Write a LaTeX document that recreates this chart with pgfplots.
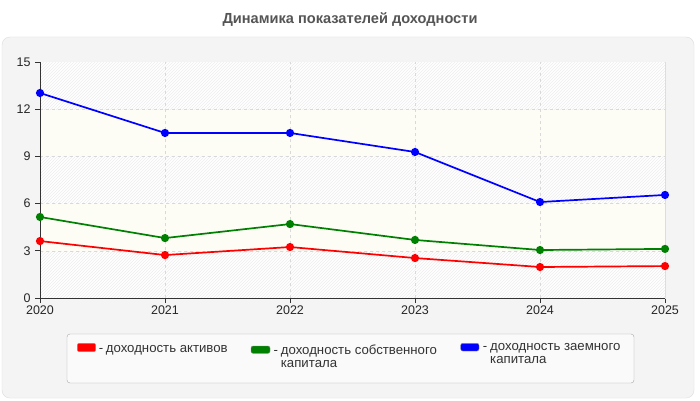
\documentclass[border=0pt]{standalone}
\usepackage{fontspec}
\setmainfont{Liberation Sans}
\usepackage{pgfplots}
\pgfplotsset{compat=1.18}
\usetikzlibrary{patterns}
\definecolor{panel}{HTML}{F4F4F4}
\definecolor{panelborder}{HTML}{DDDDDD}
\definecolor{ivory}{HTML}{FDFDF6}
\definecolor{titlegray}{HTML}{555555}
\definecolor{legfill}{HTML}{FAFAFA}
\definecolor{legdraw}{HTML}{AAAAAA}
\definecolor{cred}{HTML}{FF0000}
\definecolor{cgreen}{HTML}{008000}
\definecolor{cblue}{HTML}{0000FF}
\begin{document}
\begin{tikzpicture}[x=1pt,y=1pt]
\path[use as bounding box] (0,0) rectangle (700,400);
\fill[white] (0,0) rectangle (700,400);
\draw[panelborder, fill=panel, rounded corners=8pt] (2,2) rectangle (694,363);
\node[font=\fontsize{14.6}{16}\selectfont\bfseries, text=titlegray, anchor=base] at (350,376.7) {Динамика показателей доходности};
\begin{axis}[
  at={(40pt,102pt)}, anchor=origin,
  scale only axis, width=625pt, height=236pt,
  xmin=2020, xmax=2025, ymin=0, ymax=15,
  xtick={2020,2021,2022,2023,2024,2025},
  ytick={0,3,6,9,12,15},
  /pgf/number format/1000 sep={},
  /pgf/number format/assume math mode=true,
  ticklabel style={font=\fontsize{12.5}{14}\selectfont, text=black!85},
  xticklabel style={yshift=1pt},
  yticklabel style={xshift=-1pt},
  xtick pos=bottom, ytick pos=left, tick align=outside,
  major tick length=5pt, tick style={black!80, line width=0.8pt},
  axis line style={draw=panelborder},
  clip=false,
]
\fill[white] (axis cs:2020,0) rectangle (axis cs:2025,15);
\fill[pattern=north east lines, pattern color=black!7] (axis cs:2020,0) rectangle (axis cs:2025,3);
\fill[ivory] (axis cs:2020,3) rectangle (axis cs:2025,6);
\fill[pattern=north east lines, pattern color=black!7] (axis cs:2020,6) rectangle (axis cs:2025,9);
\fill[ivory] (axis cs:2020,9) rectangle (axis cs:2025,12);
\fill[pattern=north east lines, pattern color=black!7] (axis cs:2020,12) rectangle (axis cs:2025,15);
\draw[dashed, black!15, line width=0.6pt] (axis cs:2020,3) -- (axis cs:2025,3);
\draw[dashed, black!15, line width=0.6pt] (axis cs:2020,6) -- (axis cs:2025,6);
\draw[dashed, black!15, line width=0.6pt] (axis cs:2020,9) -- (axis cs:2025,9);
\draw[dashed, black!15, line width=0.6pt] (axis cs:2020,12) -- (axis cs:2025,12);
\draw[dashed, black!15, line width=0.6pt] (axis cs:2021,0) -- (axis cs:2021,15);
\draw[dashed, black!15, line width=0.6pt] (axis cs:2022,0) -- (axis cs:2022,15);
\draw[dashed, black!15, line width=0.6pt] (axis cs:2023,0) -- (axis cs:2023,15);
\draw[dashed, black!15, line width=0.6pt] (axis cs:2024,0) -- (axis cs:2024,15);
\addplot[cred, line width=1.7pt, mark=*, mark size=3.2pt] coordinates {
 (2020,3.62) (2021,2.73) (2022,3.24) (2023,2.54) (2024,1.97) (2025,2.03)};
\addplot[cgreen, line width=1.7pt, mark=*, mark size=3.2pt] coordinates {
 (2020,5.15) (2021,3.81) (2022,4.70) (2023,3.69) (2024,3.05) (2025,3.12)};
\addplot[cblue, line width=1.7pt, mark=*, mark size=3.2pt] coordinates {
 (2020,13.03) (2021,10.49) (2022,10.49) (2023,9.28) (2024,6.10) (2025,6.55)};
\draw[black!80, line width=1pt] (axis cs:2020,15) -- (axis cs:2020,0) -- (axis cs:2025,0);
\end{axis}
% legend
\draw[legdraw, fill=legfill, rounded corners=3pt] (67,17) rectangle (634,66);
\begin{scope}[font=\fontsize{13.2}{12}\selectfont, text=black!80]
\draw[black!45, fill=cred, rounded corners=2pt] (77.3,48.3) rectangle (95.7,56.7);
\node[anchor=base west, inner sep=0pt] at (98.7,47.7) {-};
\node[anchor=base west, inner sep=0pt] at (105.7,47.7) {доходность активов};
\draw[black!45, fill=cgreen, rounded corners=2pt] (251,46.7) rectangle (270,54);
\node[anchor=base west, inner sep=0pt] at (273.3,46) {-};
\node[anchor=base west, inner sep=0pt] at (280.7,46) {доходность собственного};
\node[anchor=base west, inner sep=0pt] at (280.7,32.8) {капитала};
\draw[black!45, fill=cblue, rounded corners=2pt] (460.7,49) rectangle (479,56.7);
\node[anchor=base west, inner sep=0pt] at (482.7,49.3) {-};
\node[anchor=base west, inner sep=0pt] at (490,49.3) {доходность заемного};
\node[anchor=base west, inner sep=0pt] at (490,36.2) {капитала};
\end{scope}
\end{tikzpicture}
\end{document}
